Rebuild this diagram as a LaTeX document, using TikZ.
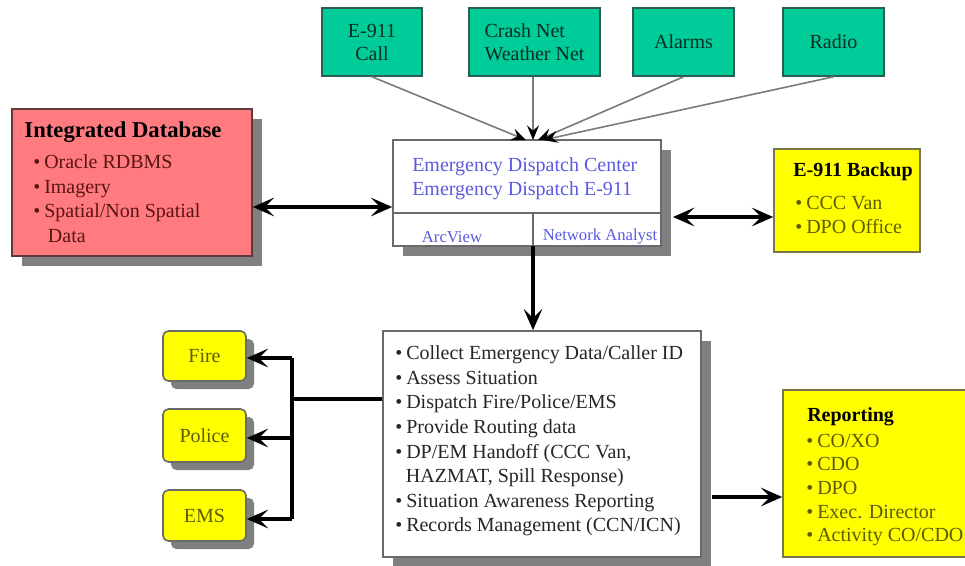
\documentclass[tikz,border=0pt]{standalone}
\usepackage{fontspec}
\setmainfont{Liberation Serif}
\usetikzlibrary{arrows.meta,shadows,calc}
\definecolor{grn}{HTML}{00CC99}
\definecolor{grnborder}{HTML}{2E5E50}
\definecolor{grntext}{HTML}{0A2E24}
\definecolor{pinkfill}{HTML}{FF7B80}
\definecolor{pinkborder}{HTML}{5E3A3A}
\definecolor{pinktext}{HTML}{5A1414}
\definecolor{yel}{HTML}{FFFF00}
\definecolor{yelborder}{HTML}{77774A}
\definecolor{olivetext}{HTML}{5C5C00}
\definecolor{shadowgray}{HTML}{808080}
\definecolor{edcblue}{HTML}{5A5AE0}
\definecolor{boxborder}{HTML}{6A6A6A}
\definecolor{arrgray}{HTML}{7A7A7A}
\begin{document}
\begin{tikzpicture}[x=0.75pt,y=-0.75pt,
  box/.style={draw, inner sep=0pt, line width=1.2pt},
  greenbox/.style={box, fill=grn, draw=grnborder, text=grntext, minimum height=51pt,
     font=\fontsize{15}{17.25}\selectfont},
  sh/.style={general shadow={fill=shadowgray, shadow xshift=7.5pt, shadow yshift=-7.5pt}},
  shs/.style={general shadow={fill=shadowgray, shadow xshift=6pt, shadow yshift=-6pt}},
  yelbox/.style={box, fill=yel, draw=yelborder},
  unitbox/.style={box, fill=yel, draw=boxborder, rounded corners=4pt, shs, text=olivetext,
     minimum width=62.25pt, font=\fontsize{15}{18}\selectfont},
  txt/.style={inner sep=0pt, anchor=north west, align=left},
  feed/.style={draw=arrgray, line width=1.2pt, -{Stealth[length=11pt,width=9pt,inset=4pt,color=black]}},
  bigtip/.tip={Stealth[length=16pt,width=14pt,inset=7pt]},
  thickarr/.style={line width=2.3pt, -bigtip},
  dblarr/.style={line width=2.3pt, bigtip-bigtip},
  plain/.style={line width=2.3pt}
]
\useasboundingbox (0,0) rectangle (965,565);

% ---- input boxes
\node[greenbox, minimum width=75pt, align=center] (e911) at (372,42) {E-911\\Call};
\node[greenbox, minimum width=98.25pt, align=left] (crash) at (534.5,42) {Crash Net\\Weather Net};
\node[greenbox, minimum width=75.75pt] (alarms) at (683.5,42) {Alarms};
\node[greenbox, minimum width=75.75pt] (radio) at (833.5,42) {Radio};

% ---- dispatch center
\node[box, draw=boxborder, fill=white, sh, minimum width=201pt, minimum height=79.5pt] (edc) at (527,193) {};
\coordinate (divL) at (edc.west |- 0,213);
\coordinate (divR) at (edc.east |- 0,213);
\coordinate (divTop) at (533,213);
\coordinate (divBot) at (533,246);
\draw[boxborder, line width=1.2pt] (divL) -- (divR);
\draw[boxborder, line width=1.2pt] (divTop) -- (divBot);
\node[txt, anchor=west, text=edcblue, font=\fontsize{15}{18}\selectfont] (edcText) at (412,179)
  {Emergency Dispatch Center\\Emergency Dispatch E-911};
\node[inner sep=0pt, text=edcblue, font=\fontsize{12.5}{14}\selectfont] (arcview) at (452,237) {ArcView};
\node[inner sep=0pt, text=edcblue, font=\fontsize{12.5}{14}\selectfont] (netan) at (600,237) {Network Analyst};

% ---- feeds into the center
\coordinate (in1) at (526,140);
\coordinate (in2) at (533,140);
\coordinate (in3) at (538,140);
\coordinate (in4) at (543,140);
\draw[feed] (e911.south) -- (in1);
\draw[feed] (crash.south -| in2) -- (in2);
\draw[feed] (alarms.south) -- (in3);
\draw[feed] (radio.south) -- (in4);

% ---- integrated database
\node[box, fill=pinkfill, draw=pinkborder, sh, minimum width=180pt, minimum height=110.25pt] (db) at (132,182.5) {};
\node[inner sep=0pt, font=\bfseries\fontsize{17}{20}\selectfont] (dbTitle) at (123,132) {Integrated Database};
\node[txt, text=pinktext, font=\fontsize{15}{18.4}\selectfont] (dbText) at (33,154.5)
  {\textbullet\hspace{3pt}Oracle RDBMS\\\textbullet\hspace{3pt}Imagery\\\textbullet\hspace{3pt}Spatial/Non Spatial\\\hspace*{11pt}Data};
\coordinate (dbR) at (db.east |- 0,207);
\draw[dblarr] (dbR) -- (dbR -| edc.west);

% ---- E-911 backup
\node[yelbox, minimum width=109.5pt, minimum height=77.25pt] (backup) at (847,200.5) {};
\node[inner sep=0pt, anchor=west, font=\bfseries\fontsize{15}{18}\selectfont] (backupTitle) at (793,172) {E-911 Backup};
\node[txt, text=olivetext, font=\fontsize{15}{18}\selectfont] (backupText) at (795,195.5)
  {\textbullet\hspace{3pt}CCC Van\\\textbullet\hspace{3pt}DPO Office};
\coordinate (edcShR) at (673,217);
\draw[dblarr] (edcShR) -- (edcShR -| backup.west);

% ---- processing box
\node[box, draw=boxborder, fill=white, sh, minimum width=238.5pt, minimum height=169.5pt] (proc) at (542,444) {};
\node[txt, text=black!85, font=\fontsize{15}{18.45}\selectfont] (procText) at (395,345.5)
  {\textbullet\hspace{3pt}Collect Emergency Data/Caller ID\\
   \textbullet\hspace{3pt}Assess Situation\\
   \textbullet\hspace{3pt}Dispatch Fire/Police/EMS\\
   \textbullet\hspace{3pt}Provide Routing data\\
   \textbullet\hspace{3pt}DP/EM Handoff (CCC Van,\\
   \hspace*{8pt}HAZMAT, Spill Response)\\
   \textbullet\hspace{3pt}Situation Awareness Reporting\\
   \textbullet\hspace{3pt}Records Management (CCN/ICN)};
\draw[thickarr] (divBot) -- (divBot |- proc.north);

% ---- units
\node[unitbox, minimum height=37.5pt] (fire) at (204.5,356) {Fire};
\node[unitbox, minimum height=39.75pt] (police) at (204.5,435.5) {Police};
\node[unitbox, minimum height=38.25pt] (ems) at (204.5,515.5) {EMS};
\coordinate (busTop) at (292,358);
\coordinate (busMid) at (292,399);
\coordinate (busPol) at (292,438);
\coordinate (busBot) at (292,519);
\draw[plain] (proc.west |- busMid) -- (busMid);
\draw[plain] (busTop) -- (busBot);
\draw[thickarr] (busTop) -- (busTop -| fire.east);
\draw[thickarr] (busPol) -- (busPol -| police.east);
\draw[thickarr] (busBot) -- (busBot -| ems.east);

% ---- reporting
\node[yelbox, minimum width=140.25pt, minimum height=125.25pt] (report) at (876.5,473.5) {};
\node[inner sep=0pt, anchor=west, font=\bfseries\fontsize{15}{18}\selectfont] (reportTitle) at (807,417) {Reporting};
\node[txt, text=olivetext, font=\fontsize{15}{17.8}\selectfont] (reportText) at (806,433.5)
  {\textbullet\hspace{3pt}CO/XO\\\textbullet\hspace{3pt}CDO\\\textbullet\hspace{3pt}DPO\\\textbullet\hspace{3pt}Exec. Director\\\textbullet\hspace{3pt}Activity CO/CDO};
\coordinate (procR) at (712,497);
\draw[thickarr] (procR) -- (procR -| report.west);
\end{tikzpicture}
\end{document}
